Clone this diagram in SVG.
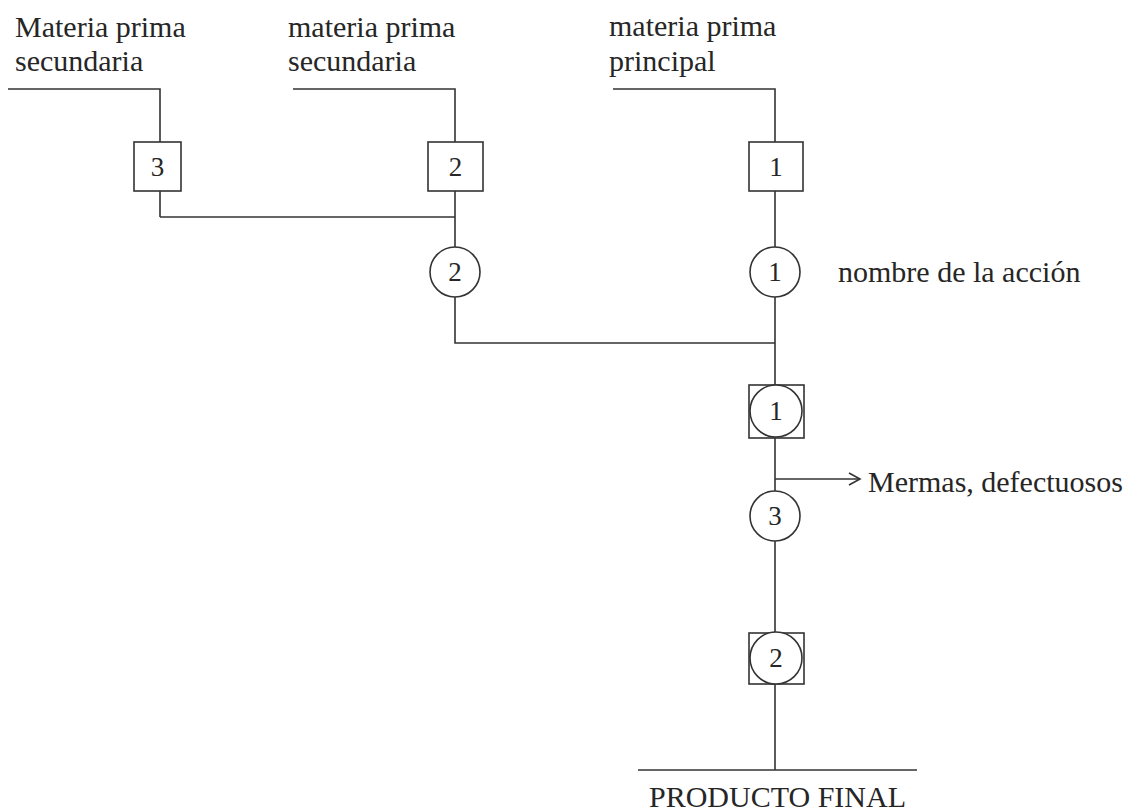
<svg xmlns="http://www.w3.org/2000/svg" width="1136" height="812" viewBox="0 0 1136 812">
<defs>
<style>
.t{font-family:"Liberation Serif","Times New Roman",serif;font-size:30px;fill:#262626}
.n{font-family:"Liberation Serif","Times New Roman",serif;font-size:27px;fill:#262626;text-anchor:middle}
.s{fill:#fff;stroke:#333;stroke-width:1.6}
.c{fill:none;stroke:#333;stroke-width:1.6}
</style>
<marker id="arr" markerWidth="14" markerHeight="14" refX="12" refY="7" orient="auto" markerUnits="userSpaceOnUse">
<path d="M1,1 L12,7 L1,13" fill="none" stroke="#333" stroke-width="1.6"/>
</marker>
</defs>
<rect width="1136" height="812" fill="#fff"/>
<g id="connectors" class="c">
<path d="M8,89 H160 V217"/>
<path d="M293,89 H455 V247"/>
<path d="M160,217 H455"/>
<path d="M613,89 H775 V770"/>
<path d="M455,297 V343 H775"/>
<path d="M775,479 H860" marker-end="url(#arr)"/>
<path d="M638,770 H917"/>
</g>
<g id="label-mp3"><text class="t" x="15" y="37">Materia prima</text><text class="t" x="15" y="71">secundaria</text></g>
<g id="label-mp2"><text class="t" x="288" y="37">materia prima</text><text class="t" x="288" y="71">secundaria</text></g>
<g id="label-mp1"><text class="t" x="609" y="36">materia prima</text><text class="t" x="609" y="71">principal</text></g>
<g id="box3"><rect class="s" x="134" y="142" width="47" height="49"/><text class="n" x="157.5" y="176">3</text></g>
<g id="box2"><rect class="s" x="428" y="142" width="55" height="49"/><text class="n" x="455.5" y="176">2</text></g>
<g id="box1"><rect class="s" x="749" y="142" width="54" height="49"/><text class="n" x="776" y="176">1</text></g>
<g id="op2"><circle class="s" cx="455" cy="272" r="25"/><text class="n" x="455" y="281">2</text></g>
<g id="op1"><circle class="s" cx="775" cy="272" r="25"/><text class="n" x="775" y="281">1</text></g>
<g id="label-accion"><text class="t" x="838" y="282">nombre de la acción</text></g>
<g id="comb1"><rect class="s" x="749" y="385" width="55" height="53"/><circle class="s" cx="776" cy="411" r="26"/><text class="n" x="776" y="420">1</text></g>
<g id="label-mermas"><text class="t" x="868" y="492">Mermas, defectuosos</text></g>
<g id="op3"><circle class="s" cx="775" cy="516" r="25"/><text class="n" x="775" y="525">3</text></g>
<g id="comb2"><rect class="s" x="749" y="633" width="55" height="51"/><circle class="s" cx="776" cy="658" r="26"/><text class="n" x="776" y="667">2</text></g>
<g id="label-final"><text class="t" x="649" y="807">PRODUCTO FINAL</text></g>
</svg>
